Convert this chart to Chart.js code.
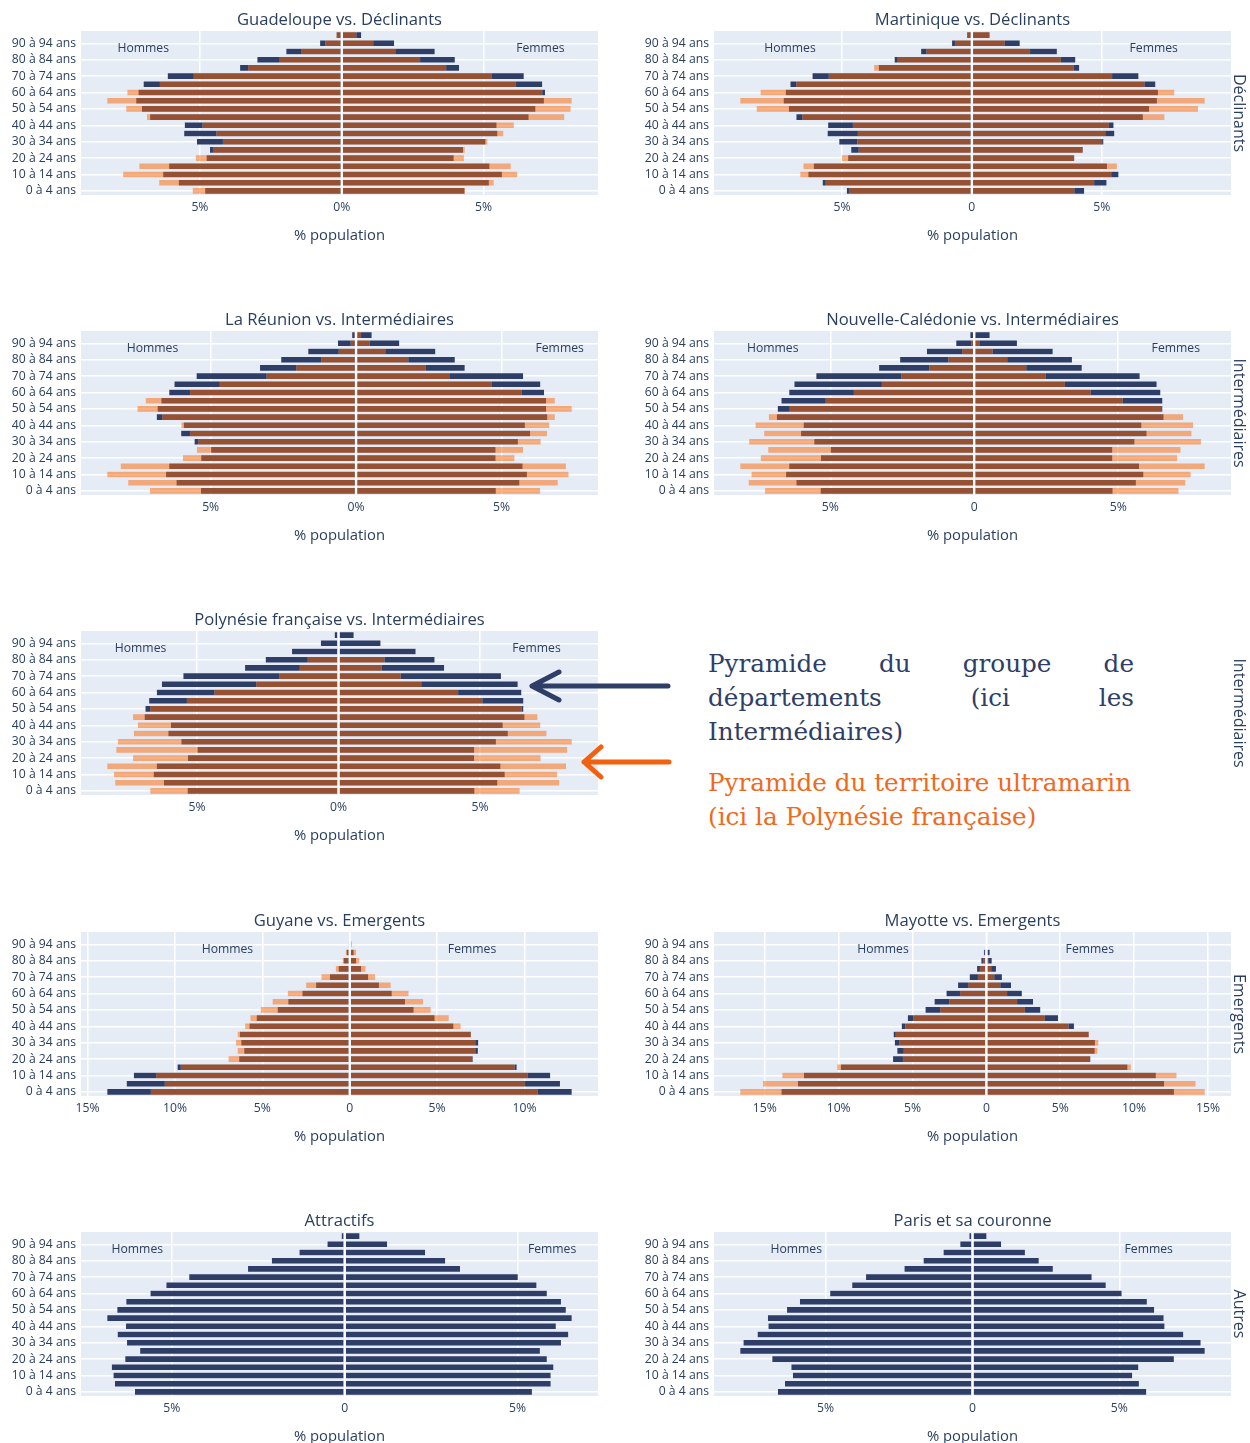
<!DOCTYPE html>
<html lang="fr">
<head>
<meta charset="utf-8">
<title>Pyramides des âges – territoires ultramarins et groupes de départements</title>
<script src="https://cdn.jsdelivr.net/npm/chart.js@4.4.1/dist/chart.umd.min.js"></script>
<style>
  html, body { margin: 0; padding: 0; background: #ffffff; overflow: hidden; }
  #page { position: relative; width: 1250px; height: 1443px; overflow: hidden; }
  #page canvas { position: absolute; }
  .rowlabel {
    position: absolute; writing-mode: vertical-rl; white-space: nowrap;
    font: 16px "Open Sans", sans-serif; color: #2a3f5f; line-height: 1;
    transform: translate(-50%, -50%);
  }
  .note { position: absolute; left: 708px; top: 647px; width: 426px;
          font-family: "DejaVu Serif", serif; font-size: 24.7px; }
  .note .navy { color: #2e3e66; line-height: 34px; }
  .note .just { text-align: justify; text-align-last: justify; white-space: nowrap; }
  .note .orange { color: #ee6a1c; line-height: 34px; margin-top: 17px; }
  #arrows { position: absolute; left: 0; top: 0; pointer-events: none; }
</style>
</head>
<body>
<div id="page">
  <div class="note">
    <div class="navy just">Pyramide du groupe de</div>
    <div class="navy just">départements (ici les</div>
    <div class="navy">Intermédiaires)</div>
    <div class="orange">Pyramide du territoire ultramarin<br>(ici la Polynésie française)</div>
  </div>
</div>
<script>
// Age classes, youngest first (the axis is reversed so "0 à 4 ans" sits at the bottom)
const ageGroups = [
  '0 à 4 ans', '5 à 9 ans', '10 à 14 ans', '15 à 19 ans', '20 à 24 ans',
  '25 à 29 ans', '30 à 34 ans', '35 à 39 ans', '40 à 44 ans', '45 à 49 ans',
  '50 à 54 ans', '55 à 59 ans', '60 à 64 ans', '65 à 69 ans', '70 à 74 ans',
  '75 à 79 ans', '80 à 84 ans', '85 à 89 ans', '90 à 94 ans', '95 ans et plus'
];

// Share of the population (%) in each age class – groups of départements
const declinantsHommes = [4.83, 5.76, 6.31, 6.10, 4.78, 4.66, 5.12, 5.57, 5.55, 6.77, 7.06, 7.26, 7.18, 7.00, 6.15, 3.60, 2.99, 1.97, 0.78, 0.20];
const declinantsFemmes = [4.34, 5.20, 5.66, 5.22, 3.96, 4.29, 5.08, 5.50, 5.47, 6.60, 6.84, 7.14, 7.18, 7.08, 6.43, 4.15, 4.00, 3.29, 1.86, 0.70];

const intermediairesHommes = [5.35, 6.19, 6.55, 6.44, 5.34, 5.00, 5.57, 6.03, 5.94, 6.87, 6.84, 6.71, 6.44, 6.26, 5.50, 3.32, 2.59, 1.66, 0.64, 0.15];
const intermediairesFemmes = [4.82, 5.63, 5.89, 5.74, 4.81, 4.81, 5.58, 6.00, 5.82, 6.59, 6.55, 6.55, 6.48, 6.35, 5.76, 3.75, 3.41, 2.74, 1.50, 0.55];

const emergentsHommes = [13.90, 12.79, 12.38, 9.88, 6.35, 6.06, 6.23, 6.31, 5.76, 5.35, 4.15, 3.54, 2.73, 1.95, 1.16, 0.66, 0.37, 0.20, 0.06, 0.02];
const emergentsFemmes = [12.73, 12.06, 11.50, 9.58, 7.07, 7.36, 7.38, 6.96, 5.96, 4.88, 3.68, 3.19, 2.43, 1.70, 1.08, 0.68, 0.39, 0.25, 0.08, 0.03];

const attractifsHommes = [6.08, 6.66, 6.70, 6.75, 6.36, 5.93, 6.31, 6.58, 6.34, 6.88, 6.59, 6.33, 5.63, 5.17, 4.51, 2.81, 2.12, 1.32, 0.51, 0.10];
const attractifsFemmes = [5.43, 5.97, 5.97, 6.05, 5.86, 5.66, 6.27, 6.48, 6.12, 6.58, 6.41, 6.27, 5.86, 5.56, 5.02, 3.35, 2.92, 2.34, 1.24, 0.44];

const parisHommes = [6.64, 6.40, 6.13, 6.18, 6.83, 7.92, 7.81, 7.33, 6.96, 6.98, 6.33, 5.89, 4.86, 4.11, 3.64, 2.33, 1.68, 1.00, 0.43, 0.12];
const parisFemmes = [5.93, 5.68, 5.45, 5.66, 6.87, 7.92, 7.78, 7.19, 6.55, 6.52, 6.20, 5.95, 5.09, 4.55, 4.07, 2.75, 2.27, 1.80, 0.99, 0.49];

// Share of the population (%) in each age class – overseas territories
const guadeloupeHommes = [5.27, 6.45, 7.72, 7.15, 5.16, 4.55, 4.20, 4.43, 4.92, 6.88, 7.61, 8.28, 7.57, 6.42, 5.23, 3.31, 2.20, 1.43, 0.59, 0.20];
const guadeloupeFemmes = [4.36, 5.37, 6.20, 5.97, 4.32, 4.35, 5.15, 5.71, 6.08, 7.86, 8.08, 8.12, 7.08, 6.15, 5.29, 3.69, 2.77, 1.90, 1.12, 0.53];

const martiniqueHommes = [4.74, 5.64, 6.62, 6.50, 5.02, 4.37, 4.42, 4.40, 4.59, 6.54, 8.30, 8.93, 8.15, 6.77, 5.52, 3.78, 2.87, 1.76, 0.66, 0.20];
const martiniqueFemmes = [3.96, 4.72, 5.38, 5.60, 3.94, 4.28, 5.03, 5.15, 5.29, 7.43, 8.72, 8.98, 7.81, 6.66, 5.41, 3.93, 3.44, 2.25, 1.28, 0.68];

const reunionHommes = [7.10, 7.85, 8.57, 8.11, 5.97, 5.49, 5.44, 5.72, 6.02, 6.68, 7.53, 7.25, 5.72, 4.70, 3.09, 2.07, 1.21, 0.61, 0.20, 0.08];
const reunionFemmes = [6.34, 6.95, 7.32, 7.23, 5.46, 5.76, 6.36, 6.58, 6.66, 6.85, 7.43, 6.85, 5.71, 4.67, 3.22, 2.40, 1.81, 1.02, 0.48, 0.18];

const caledonieHommes = [7.28, 7.85, 7.75, 8.14, 7.43, 7.17, 7.83, 7.31, 7.61, 7.15, 6.42, 5.17, 4.19, 3.22, 2.54, 1.57, 0.91, 0.43, 0.11, 0.04];
const caledonieFemmes = [7.11, 7.35, 7.53, 8.02, 7.06, 7.18, 7.89, 7.56, 7.62, 7.27, 6.51, 5.17, 4.06, 3.16, 2.49, 1.82, 1.16, 0.65, 0.19, 0.03];

const polynesieHommes = [6.67, 7.91, 7.95, 8.19, 7.28, 7.87, 7.81, 7.25, 7.11, 7.28, 6.67, 5.37, 4.40, 2.92, 2.11, 1.38, 1.10, 0, 0, 0];
const polynesieFemmes = [6.42, 7.82, 7.74, 8.06, 7.16, 8.10, 8.26, 7.37, 7.15, 7.05, 6.49, 5.10, 4.24, 2.94, 2.21, 1.54, 1.64, 0, 0, 0];

const guyaneHommes = [11.40, 10.60, 11.10, 9.69, 6.96, 6.44, 6.53, 6.44, 6.01, 5.71, 5.12, 4.44, 3.57, 2.52, 1.64, 0.82, 0.43, 0.25, 0.10, 0.04];
const guyaneFemmes = [10.78, 10.05, 10.21, 9.46, 7.05, 7.21, 7.21, 6.96, 6.37, 5.69, 4.66, 4.23, 3.39, 2.37, 1.48, 0.93, 0.57, 0.39, 0.15, 0.05];

const mayotteHommes = [16.69, 15.16, 13.84, 10.13, 5.67, 5.62, 5.91, 6.16, 5.51, 4.97, 3.15, 2.53, 1.80, 1.26, 0.59, 0.46, 0.24, 0.13, 0.03, 0.01];
const mayotteFemmes = [14.81, 14.19, 12.90, 9.81, 7.05, 7.55, 7.61, 6.96, 5.59, 3.98, 2.63, 2.10, 1.42, 0.97, 0.56, 0.35, 0.16, 0.08, 0.03, 0.01];

// Row captions on the right-hand side
const rowCaptions = ['Déclinants', 'Intermédiaires', 'Intermédiaires', 'Emergents', 'Autres'];

// ---- appearance -----------------------------------------------------------
const PLOT_BG = '#E5ECF6';
const NAVY = '#2f3e67';
const ORANGE = 'rgba(253, 100, 0, 0.5)';
const TEXT = '#2a3f5f';
const FONT = '"Open Sans", sans-serif';

// page geometry of the 2 x 5 grid
const COL_LEFT = [0, 630];
const COL_WIDTH = [610, 620];
const AXIS_WIDTH = [81, 84];
const PAD_RIGHT = [12, 19];
const PLOT_TOP = [31, 331, 631, 932, 1232];
const PLOT_H = 164;
const PAD_TOP = 32, X_AXIS_H = 20, PAD_BOTTOM = 45;

const panels = [
  { col: 0, row: 0, title: 'Guadeloupe vs. Déclinants', group: 'Déclinants', gH: declinantsHommes, gF: declinantsFemmes, tH: guadeloupeHommes, tF: guadeloupeFemmes, zero: '0%', side: 7 },
  { col: 1, row: 0, title: 'Martinique vs. Déclinants', group: 'Déclinants', gH: declinantsHommes, gF: declinantsFemmes, tH: martiniqueHommes, tF: martiniqueFemmes, zero: '0', side: 7 },
  { col: 0, row: 1, title: 'La Réunion vs. Intermédiaires', group: 'Intermédiaires', gH: intermediairesHommes, gF: intermediairesFemmes, tH: reunionHommes, tF: reunionFemmes, zero: '0%', side: 7 },
  { col: 1, row: 1, title: 'Nouvelle-Calédonie vs. Intermédiaires', group: 'Intermédiaires', gH: intermediairesHommes, gF: intermediairesFemmes, tH: caledonieHommes, tF: caledonieFemmes, zero: '0', side: 7 },
  { col: 0, row: 2, title: 'Polynésie française vs. Intermédiaires', group: 'Intermédiaires', gH: intermediairesHommes, gF: intermediairesFemmes, tH: polynesieHommes, tF: polynesieFemmes, zero: '0%', side: 7 },
  { col: 0, row: 3, title: 'Guyane vs. Emergents', group: 'Emergents', gH: emergentsHommes, gF: emergentsFemmes, tH: guyaneHommes, tF: guyaneFemmes, zero: '0', side: 7 },
  { col: 1, row: 3, title: 'Mayotte vs. Emergents', group: 'Emergents', gH: emergentsHommes, gF: emergentsFemmes, tH: mayotteHommes, tF: mayotteFemmes, zero: '0', side: 7 },
  { col: 0, row: 4, title: 'Attractifs', group: 'Attractifs', gH: attractifsHommes, gF: attractifsFemmes, zero: '0', side: 6 },
  { col: 1, row: 4, title: 'Paris et sa couronne', group: 'Paris et sa couronne', gH: parisHommes, gF: parisFemmes, zero: '0', side: 6 }
];

// Autorange: data extent padded by 5 % of the axis length on each side
function xRange(p) {
  const lo = -Math.max(...p.gH, ...(p.tH || []));
  const hi = Math.max(...p.gF, ...(p.tF || []));
  const pad = (hi - lo) / 18;
  return [lo - pad, hi + pad];
}

// Plot background, zero line and the panel texts
const panelDecor = {
  id: 'panelDecor',
  beforeDraw(chart) {
    const { ctx, chartArea: a } = chart;
    ctx.save();
    ctx.fillStyle = PLOT_BG;
    ctx.fillRect(a.left, a.top, a.right - a.left, a.bottom - a.top);
    ctx.restore();
  },
  afterDatasetsDraw(chart) {
    const { ctx, chartArea: a } = chart;
    const x0 = chart.scales.x.getPixelForValue(0);
    ctx.save();
    ctx.strokeStyle = '#ffffff';
    ctx.lineWidth = 1.5;
    ctx.beginPath();
    ctx.moveTo(x0, a.top);
    ctx.lineTo(x0, a.bottom);
    ctx.stroke();
    ctx.restore();
  },
  afterDraw(chart, args, opts) {
    const { ctx, chartArea: a } = chart;
    const cx = (a.left + a.right) / 2;
    const xs = chart.scales.x;
    ctx.save();
    ctx.fillStyle = TEXT;
    ctx.textAlign = 'center';
    ctx.textBaseline = 'middle';
    ctx.font = '16.6px ' + FONT;
    ctx.fillText(opts.title, cx, a.top - 11);
    ctx.font = '14.8px ' + FONT;
    ctx.fillText('% population', cx, a.bottom + 40.5);
    ctx.font = '12.2px ' + FONT;
    ctx.fillText('Hommes', xs.getPixelForValue(-opts.side), a.top + 17.5);
    ctx.fillText('Femmes', xs.getPixelForValue(opts.side), a.top + 17.5);
    ctx.restore();
  }
};

const page = document.getElementById('page');

panels.forEach(p => {
  const w = COL_WIDTH[p.col];
  const h = PAD_TOP + PLOT_H + X_AXIS_H + PAD_BOTTOM;
  const cv = document.createElement('canvas');
  cv.width = w; cv.height = h;
  cv.style.width = w + 'px'; cv.style.height = h + 'px';
  cv.style.left = COL_LEFT[p.col] + 'px';
  cv.style.top = (PLOT_TOP[p.row] - PAD_TOP) + 'px';
  page.appendChild(cv);

  const [xmin, xmax] = xRange(p);
  const datasets = [];
  if (p.tH) {
    const name = p.title.split(' vs. ')[0];
    datasets.push({ label: name + ' – Hommes', data: p.tH.map(v => -v), backgroundColor: ORANGE, borderColor: 'rgba(229,236,246,0.5)' });
    datasets.push({ label: name + ' – Femmes', data: p.tF, backgroundColor: ORANGE, borderColor: 'rgba(229,236,246,0.5)' });
  }
  datasets.push({ label: p.group + ' – Hommes', data: p.gH.map(v => -v), backgroundColor: NAVY, borderColor: PLOT_BG });
  datasets.push({ label: p.group + ' – Femmes', data: p.gF, backgroundColor: NAVY, borderColor: PLOT_BG });

  new Chart(cv, {
    type: 'bar',
    data: { labels: ageGroups, datasets },
    plugins: [panelDecor],
    options: {
      indexAxis: 'y',
      responsive: false,
      animation: false,
      devicePixelRatio: 1,
      layout: { padding: { top: PAD_TOP, right: PAD_RIGHT[p.col], bottom: PAD_BOTTOM, left: 0 } },
      datasets: { bar: { grouped: false, barPercentage: 0.8, categoryPercentage: 1, borderWidth: 0.5, borderSkipped: false } },
      plugins: {
        legend: { display: false },
        tooltip: { enabled: false },
        title: { display: false },
        panelDecor: { title: p.title, side: p.side }
      },
      scales: {
        x: {
          type: 'linear', min: xmin, max: xmax,
          afterBuildTicks(scale) {
            const t = [];
            for (let v = Math.ceil(xmin / 5) * 5; v <= xmax; v += 5) t.push({ value: v });
            scale.ticks = t;
          },
          afterFit(scale) { scale.height = X_AXIS_H; },
          grid: { color: '#ffffff', lineWidth: 1.5, drawTicks: false },
          border: { display: false },
          ticks: {
            autoSkip: false, maxRotation: 0, padding: 5, color: TEXT,
            font: { family: FONT, size: 12.2 },
            callback: v => (Math.abs(v) < 1e-9 ? p.zero : Math.abs(v) + '%')
          }
        },
        y: {
          type: 'category', reverse: true,
          afterFit(scale) { scale.width = AXIS_WIDTH[p.col]; },
          grid: {
            offset: false, drawTicks: false, lineWidth: 1.5,
            color: c => (c.index % 2 === 0 ? '#ffffff' : 'rgba(0,0,0,0)')
          },
          border: { display: false },
          ticks: {
            autoSkip: false, padding: 5, color: TEXT,
            font: { family: FONT, size: 12.2 },
            callback: (v, i) => (i % 2 === 0 ? ageGroups[i] : '')
          }
        }
      }
    }
  });
});

// Row captions, read top to bottom
rowCaptions.forEach((txt, r) => {
  const d = document.createElement('div');
  d.className = 'rowlabel';
  d.textContent = txt;
  d.style.left = '1240px';
  d.style.top = (PLOT_TOP[r] + PLOT_H / 2) + 'px';
  page.appendChild(d);
});

// Pointer arrows for the explanatory note
const svgNS = 'http://www.w3.org/2000/svg';
const svg = document.createElementNS(svgNS, 'svg');
svg.setAttribute('id', 'arrows');
svg.setAttribute('width', '1250');
svg.setAttribute('height', '1443');
[
  { d: 'M668 686 L532 686 M559 672 L532 686 L559 700', color: '#2e3e66' },
  { d: 'M669 762 L584 762 M601 747 L584 762 L601 777', color: '#f0620f' }
].forEach(a => {
  const path = document.createElementNS(svgNS, 'path');
  path.setAttribute('d', a.d);
  path.setAttribute('fill', 'none');
  path.setAttribute('stroke', a.color);
  path.setAttribute('stroke-width', '5');
  path.setAttribute('stroke-linecap', 'round');
  path.setAttribute('stroke-linejoin', 'round');
  svg.appendChild(path);
});
page.appendChild(svg);
</script>
</body>
</html>
